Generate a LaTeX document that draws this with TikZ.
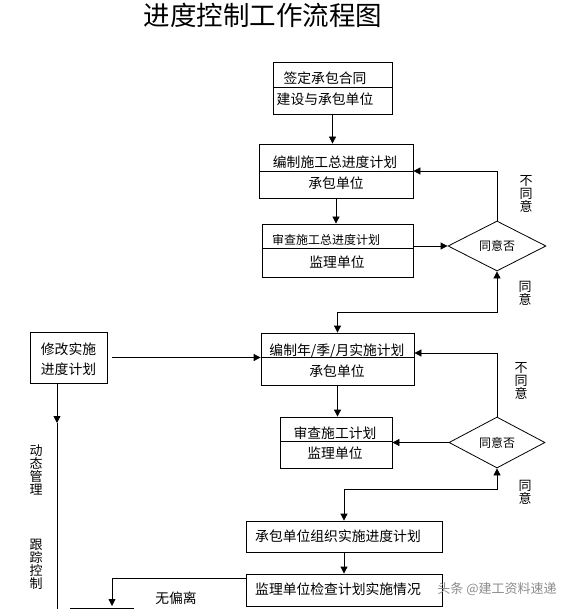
\documentclass[tikz,border=0pt]{standalone}
\usepackage{fontspec}
\setmainfont{Noto Sans CJK SC}
\usetikzlibrary{arrows.meta,shapes.geometric,calc}
\begin{document}
\begin{tikzpicture}[x=1pt,y=-1pt,
  ln/.style={line width=0.8pt,black},
  arr/.style={ln,-{Triangle[length=7pt,width=7pt]}},
  barr/.style={ln,{Triangle[length=7pt,width=7pt]}-{Triangle[length=7pt,width=7pt]}},
  box/.style={draw,ln,inner sep=0pt},
  dia/.style={draw,ln,diamond,inner sep=0pt},
  txt/.style={inner sep=0pt,font=\fontsize{13.8}{14}\selectfont},
  stxt/.style={inner sep=0pt,font=\fontsize{12}{14}\selectfont},
  vtxt/.style={inner sep=0pt,align=center,font=\fontsize{13}{14}\selectfont}]
\useasboundingbox (0,0) rectangle (578,609);
\clip (0,0) rectangle (578,609);
% title
\node[inner sep=0pt,font=\fontsize{26.5}{28}\selectfont] (title) at (263,15) {进度控制工作流程图};
% boxes
\node[box,minimum width=119pt,minimum height=52pt] (b1) at (332.5,88) {};
\draw[ln] (b1.west |- 0,87) -- (b1.east |- 0,87);
\node[txt] (b1t) at (325,78) {签定承包合同};
\node[txt] (b1b) at (325,99) {建设与承包单位};

\node[box,minimum width=154pt,minimum height=54pt] (b2) at (336,171) {};
\draw[ln] (b2.west) -- (b2.east);
\node[txt] (b2t) at (335,162) {编制施工总进度计划};
\node[txt] (b2b) at (336,183) {承包单位};

\node[box,minimum width=151pt,minimum height=53pt] (b3) at (337.5,250.5) {};
\draw[ln] (b3.west |- 0,248) -- (b3.east |- 0,248);
\node[stxt] (b3t) at (326,240) {审查施工总进度计划};
\node[txt] (b3b) at (337,262) {监理单位};

\node[dia,minimum width=98pt,minimum height=50pt] (d1) at (497,246) {};
\node[stxt] (d1t) at (497,246) {同意否};

\node[box,minimum width=153pt,minimum height=52pt] (b4) at (337.5,359) {};
\draw[ln] (b4.west |- 0,357) -- (b4.east |- 0,357);
\node[txt] (b4t) at (337,351) {编制年/季/月实施计划};
\node[txt] (b4b) at (337,371) {承包单位};

\node[box,minimum width=77pt,minimum height=51pt,align=center] (mod) at (68.5,357.5) {};
\node[txt,align=center] (modt) at (68.5,359) {修改实施\\[6pt]进度计划};

\node[box,minimum width=112pt,minimum height=51pt] (b5) at (336,442.5) {};
\draw[ln] (b5.west |- 0,441) -- (b5.east |- 0,441);
\node[txt] (b5t) at (335,433) {审查施工计划};
\node[txt] (b5b) at (335,453) {监理单位};

\node[dia,minimum width=96pt,minimum height=51pt] (d2) at (497,442.5) {};
\node[stxt] (d2t) at (497,442.5) {同意否};

\node[box,minimum width=196pt,minimum height=31pt] (b6) at (344,536.5) {};
\node[txt] (b6t) at (338,536.5) {承包单位组织实施进度计划};

\node[box,minimum width=196pt,minimum height=32pt] (b7) at (344,590) {};
\node[txt] (b7t) at (338,589) {监理单位检查计划实施情况};

\node[box,minimum width=63pt,minimum height=30pt] (b8) at (101.5,623) {};

% labels
\node[vtxt] (l1) at (526,194) {不\\[-1pt]同\\[-1pt]意};
\node[vtxt] (l2) at (525,293) {同\\[-1pt]意};
\node[vtxt] (l3) at (521,381) {不\\[-1pt]同\\[-1pt]意};
\node[vtxt] (l4) at (525,492) {同\\[-1pt]意};
\node[vtxt] (l5) at (36,470) {动\\[-1pt]态\\[-1pt]管\\[-1pt]理};
\node[vtxt] (l6) at (36,564) {跟\\[-1pt]踪\\[-1pt]控\\[-1pt]制};
\node[txt] (l7) at (176,598) {无偏离};
\node[inner sep=0pt,text=black!45,font=\fontsize{13}{14}\selectfont] (wm) at (497,589) {头条 @建工资料速递};

% coordinates
\coordinate (c1) at (497,312);
\coordinate (c2) at (497,489);
\coordinate (c3) at (112,606);
\coordinate (c4) at (57,423);
\coordinate (c5) at (57,612);

% connectors
\draw[arr] (b1.south) -- (b1.south |- b2.north);
\draw[arr] (b2.south) -- (b2.south |- b3.north);
\draw[arr] (b3.east |- d1.west) -- (d1.west);
\draw[arr] (d1.north) |- (b2.east);
\draw[barr] (d1.south) -- (c1) -| (b4.north);
\draw[arr] ([xshift=5pt]mod.east) -- (b4.west |- mod.east);
\draw[arr] (d2.north) |- ([yshift=6pt]b4.east);
\draw[arr] (b4.south) -- (b4.south |- b5.north);
\draw[arr] (d2.west) -- (b5.east |- d2.west);
\draw[barr] (d2.south) -- (c2) -| (b6.north);
\draw[arr] (b6.south) -- (b7.north);
\draw[arr] ([yshift=12pt]b7.west) -| (c3);
\draw[arr] (mod.south -| c4) -- (c4);
\draw[ln] (c4) -- (c5);
\end{tikzpicture}
\end{document}
